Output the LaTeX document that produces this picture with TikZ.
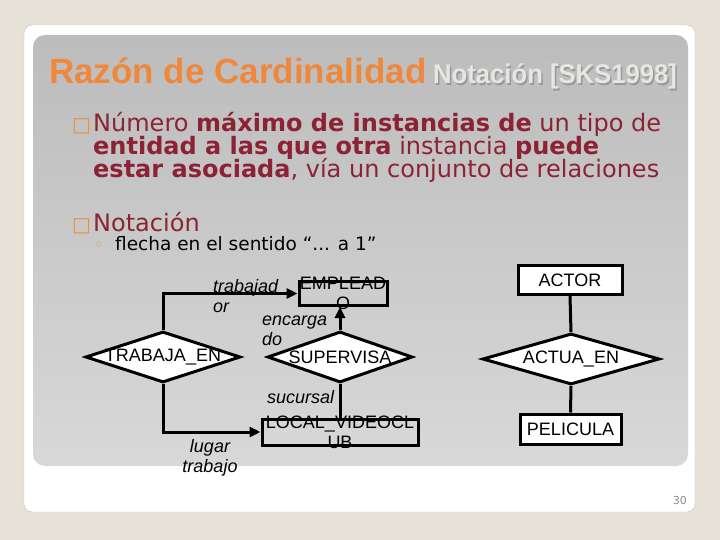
\documentclass[tikz,border=0pt]{standalone}
\usepackage{fontspec}
\setmainfont{DejaVu Sans}
\newfontfamily\arialfont{Liberation Sans}
\usepackage{xcolor}
\definecolor{slidebg}{RGB}{230,226,216}
\definecolor{cardedge}{RGB}{196,192,182}
\definecolor{paneltop}{RGB}{188,188,188}
\definecolor{panelbot}{RGB}{216,216,216}
\definecolor{titleorange}{RGB}{240,136,60}
\definecolor{titlegrey}{RGB}{230,230,226}
\definecolor{bodyred}{RGB}{140,34,52}
\definecolor{bulletorange}{RGB}{232,146,58}
\definecolor{pagegrey}{RGB}{140,140,140}
\usetikzlibrary{shapes.geometric, arrows.meta, positioning}
\tikzstyle{titletext} = [
    inner sep=0pt,
    font=\arialfont\bfseries\fontsize{35}{35}\selectfont,
    text=titleorange,
]
\tikzstyle{subtitle} = [
    inner sep=0pt, xscale=0.95,
    font=\arialfont\bfseries\fontsize{27}{27}\selectfont,
    text=titlegrey,
]
\tikzstyle{bodytext} = [
    inner sep=0pt,
    font=\fontsize{24}{23}\selectfont,
    text=bodyred,
]
\tikzstyle{bullet} = [
    inner sep=0pt,
    font=\fontsize{20}{20}\selectfont,
    text=bulletorange,
]
\tikzstyle{subtext} = [
    inner sep=0pt,
    font=\fontsize{18.5}{20}\selectfont,
    text=black,
]
\tikzstyle{entitytext} = [
    inner sep=0pt, align=center,
    font=\arialfont\fontsize{18}{20}\selectfont,
]
\tikzstyle{entity} = [
    rectangle, draw, inner sep=0pt,
    line width=3pt,
    font=\arialfont\fontsize{18}{20}\selectfont,
]
\tikzstyle{rel} = [
    diamond, draw, fill=white, inner sep=0pt,
    line width=3pt,
]
\tikzstyle{role} = [
    inner sep=0pt, align=left,
    font=\arialfont\itshape\fontsize{18}{20}\selectfont,
]
\tikzstyle{link} = [line width=3pt]
\tikzstyle{arrow} = [-{Triangle[length=11pt,width=10pt]}]

\begin{document}
\begin{tikzpicture}[x=1pt, y=-1pt]
    \useasboundingbox (0,0) rectangle (720,540);
    % slide
    \fill [slidebg] (0,0) rectangle (720,540);
    \draw [cardedge, fill=white, rounded corners=8pt] (24,25) rectangle (695,512);
    \shade [top color=paneltop, bottom color=panelbot, rounded corners=12pt] (33,35) rectangle (688,466);

    % title
    \node (title) [titletext, anchor=base west] at (49,84) {Razón de Cardinalidad};
    \node (notshadow) [subtitle, text=black!40, anchor=base west] at (434.5,85.5) {Notación [SKS1998]};
    \node (notation) [subtitle, anchor=base west] at (433,84) {Notación [SKS1998]};

    % text
    \node (bul1) [bullet, anchor=base west] at (72,132) {□};
    \node (line1) [bodytext, anchor=base west] at (93,132) {Número \textbf{máximo de instancias de} un tipo de};
    \node (line2) [bodytext, anchor=base west] at (93,155) {\textbf{entidad a las que otra} instancia \textbf{puede}};
    \node (line3) [bodytext, anchor=base west] at (93,178) {\textbf{estar asociada}, vía un conjunto de relaciones};
    \node (bul2) [bullet, anchor=base west] at (72,231) {□};
    \node (notacion) [bodytext, anchor=base west] at (93,231) {Notación};
    \node (subbul) [bullet, font=\fontsize{15}{15}\selectfont, anchor=base west] at (94,250) {◦};
    \node (flecha) [subtext, anchor=base west] at (115,250) {flecha en el sentido “... a 1”};

    % entities and relationships
    \node (empleado) at (343,293.5) [entity, minimum width=88, minimum height=24,
        label={[entitytext]center:EMPLEAD\\O}] {};
    \node (trabaja) at (163,357) [rel, minimum width=155, minimum height=51,
        label={[entitytext]center:TRABAJA\_EN}] {};
    \node (supervisa) at (340,357) [rel, minimum width=145, minimum height=51,
        label={[entitytext]center:SUPERVISA}] {};
    \node (local) at (340,432) [entity, minimum width=156, minimum height=26,
        label={[entitytext]center:LOCAL\_VIDEOCL\\UB}] {};
    \node (actor) at (570,280) [entity, fill=white, minimum width=104, minimum height=29] {ACTOR};
    \node (actua) at (571,359) [rel, minimum width=177, minimum height=51,
        label={[entitytext]center:ACTUA\_EN}] {};
    \node (pelicula) at (570.5,429) [entity, fill=white, minimum width=101, minimum height=30] {PELICULA};

    % connectors
    \draw [link, arrow] (trabaja.north) |- (empleado.west);
    \draw [link, arrow] (trabaja.south) |- (local.west);
    \draw [link, arrow] (supervisa.north) -- (supervisa.north |- empleado.south);
    \draw [link] (supervisa.south) -- (local.north);
    \draw [link] (actor.south) -- (actua.north);
    \draw [link] (actua.south) -- (pelicula.north);

    % role names
    \node (lbltrab) [role, anchor=base west] at (213,312) {trabajad\\or};
    \node (lblenc) [role, anchor=base west] at (262,345) {encarga\\do};
    \node (lblsuc) [role, anchor=base west] at (267,403) {sucursal};
    \node (lbllug) [role, align=center, anchor=base] at (210,472) {lugar\\trabajo};

    \node (pagenum) [anchor=base east, inner sep=0pt, text=pagegrey,
        font=\fontsize{11}{11}\selectfont] at (687,504) {30};
\end{tikzpicture}
\end{document}
